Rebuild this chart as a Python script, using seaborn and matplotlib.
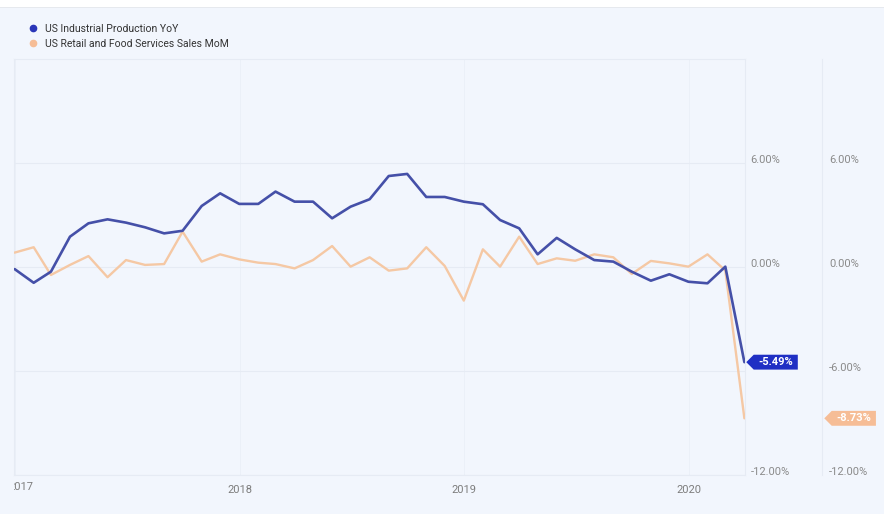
import numpy as np
import pandas as pd
import matplotlib
matplotlib.use("Agg")
import matplotlib.pyplot as plt
import matplotlib.dates as mdates
import matplotlib.transforms as mtransforms
from matplotlib.path import Path
from matplotlib.patches import Rectangle
from matplotlib.lines import Line2D
import seaborn as sns

# ---------------- data ----------------
try:
    dates = pd.date_range("2016-12-31", "2020-03-31", freq="ME")
except Exception:
    dates = pd.date_range("2016-12-31", "2020-03-31", freq="M")

ip_yoy = [-0.12, -0.91, -0.27, 1.75, 2.52, 2.75, 2.56, 2.29, 1.94, 2.09,
          3.52, 4.25, 3.64, 3.64, 4.35, 3.77, 3.77, 2.81, 3.48, 3.91,
          5.25, 5.37, 4.04, 4.04, 3.77, 3.62, 2.71, 2.23, 0.73, 1.68,
          1.02, 0.40, 0.31, -0.27, -0.79, -0.42, -0.85, -0.94, 0.02, -5.49]

retail_mom = [0.83, 1.14, -0.46, 0.12, 0.63, -0.59, 0.40, 0.12, 0.17, 2.04,
              0.31, 0.73, 0.44, 0.25, 0.17, -0.08, 0.40, 1.21, 0.02, 0.56,
              -0.21, -0.08, 1.14, 0.06, -1.94, 1.02, 0.02, 1.75, 0.17, 0.50,
              0.36, 0.73, 0.56, -0.40, 0.35, 0.21, 0.02, 0.73, -0.20, -8.73]

series_names = ["US Industrial Production YoY", "US Retail and Food Services Sales MoM"]
y_ticks = [-12, -6, 0, 6]
year_ticks = ["2017-01-01", "2018-01-01", "2019-01-01", "2020-01-01"]
year_labels = ["2017", "2018", "2019", "2020"]

# ---------------- style ----------------
BLUE_LINE = "#4550a8"
BLUE_TAG = "#1f2fc4"
BLUE_DOT = "#2a36b8"
ORANGE_LINE = "#f5c8a4"
ORANGE_TAG = "#f6bd96"
BG = "#f2f6fd"
GRID = "#e6ebf4"
VGRID = "#ebf0f8"
TICK = "#8a8a8a"

sns.set_theme(style="white")
plt.rcParams["font.family"] = ["Roboto", "DejaVu Sans"]

W, H = 884, 514
fig = plt.figure(figsize=(W / 100, H / 100), dpi=100, facecolor=BG)
ax = fig.add_axes([14 / W, 1 - 475 / H, (745 - 14) / W, (475 - 59) / H])
ax.set_facecolor(BG)

df = pd.DataFrame({"date": dates, "ip": ip_yoy, "retail": retail_mom})
sns.lineplot(data=df, x="date", y="retail", ax=ax, color=ORANGE_LINE, lw=1.7, zorder=3)
sns.lineplot(data=df, x="date", y="ip", ax=ax, color=BLUE_LINE, lw=1.9, zorder=4)

ax.set_xlim(pd.Timestamp("2016-12-30"), pd.Timestamp("2020-04-01"))
ax.set_ylim(-12, 12)
ax.set_xlabel("")
ax.set_ylabel("")

# second y axis (second column)
ax2 = ax.twinx()
ax2.set_ylim(-12, 12)
ax2.set_yticks(y_ticks)
ax2.set_yticklabels([f"{v:.2f}%" for v in y_ticks])
ax2.spines["right"].set_position(("axes", (822 - 14) / (745 - 14)))
ax2.tick_params(axis="y", length=0, pad=5, labelsize=8, labelcolor=TICK)
for lbl in ax2.get_yticklabels():
    lbl.set_verticalalignment("baseline")
for k, s in ax2.spines.items():
    if k == "right":
        s.set_color(GRID)
        s.set_linewidth(0.8)
    else:
        s.set_visible(False)

# y axis (first column on right); the -6.00% label sits under the value tag
ax.set_yticks(y_ticks)
ax.set_yticklabels(["" if v == -6 else f"{v:.2f}%" for v in y_ticks])
ax.tick_params(axis="y", left=False, labelleft=False, right=False, labelright=True,
               length=0, pad=4, labelsize=8, labelcolor=TICK)
for lbl in ax.get_yticklabels():
    lbl.set_verticalalignment("baseline")

# x axis
xt = [pd.Timestamp(d) for d in year_ticks]
ax.set_xticks(xt)
ax.set_xticklabels([""] + year_labels[1:])
ax.tick_params(axis="x", length=0, pad=7, labelsize=8, labelcolor="#7d7d7d")
ax.grid(True, axis="y", color=GRID, lw=0.8)
ax.grid(True, axis="x", color=VGRID, lw=0.7)
for s in ax.spines.values():
    s.set_color(GRID)
    s.set_linewidth(0.8)

# first year label, clipped at the plot's left edge
trans = mtransforms.blended_transform_factory(ax.transData, ax.transAxes) + \
    mtransforms.ScaledTranslation(6 / 100, -7 / 100, fig.dpi_scale_trans)
t2017 = ax.text(mdates.date2num(xt[0]), 0, year_labels[0], transform=trans,
                ha="center", va="top", fontsize=8, color="#7d7d7d", clip_on=True)
t2017.set_clip_path(Rectangle((14, 0), 3000, 3000, transform=mtransforms.IdentityTransform()))


# tag-shaped label box
def tag_box(x0, y0, width, height, mutation_size):
    px = 0.42 * mutation_size
    py = 0.22 * mutation_size
    x0 -= px
    y0 -= py
    width += 2 * px
    height += 2 * py
    tip = height / 2
    verts = [(x0, y0), (x0 + width, y0), (x0 + width, y0 + height),
             (x0, y0 + height), (x0 - tip, y0 + height / 2), (x0, y0)]
    codes = [Path.MOVETO, Path.LINETO, Path.LINETO, Path.LINETO, Path.LINETO, Path.CLOSEPOLY]
    return Path(verts, codes)


last = mdates.date2num(dates[-1])
ax2.annotate(f"{ip_yoy[-1]:.2f}%", xy=(last, ip_yoy[-1]), xytext=(14, 0),
             textcoords="offset pixels", ha="left", va="center", fontsize=8,
             fontweight="bold", color="white", annotation_clip=False, zorder=10,
             bbox=dict(boxstyle=tag_box, fc=BLUE_TAG, ec="none"))
ax2.annotate(f"{retail_mom[-1]:.2f}%", xy=(last, retail_mom[-1]), xytext=(92, 0),
             textcoords="offset pixels", ha="left", va="center", fontsize=8,
             fontweight="bold", color="white", annotation_clip=False, zorder=10,
             bbox=dict(boxstyle=tag_box, fc=ORANGE_TAG, ec="none"))

# legend
handles = [Line2D([], [], ls="", marker="o", markersize=4.5, color=BLUE_DOT),
           Line2D([], [], ls="", marker="o", markersize=4.5, color=ORANGE_TAG)]
fig.legend(handles, series_names, loc="upper left", bbox_to_anchor=(28 / W, 1 - 24 / H),
           frameon=False, fontsize=7.5, handlelength=1.0, handletextpad=0.6,
           labelspacing=0.45, borderpad=0, borderaxespad=0, labelcolor="#333333")

# white header band
fig.patches.append(Rectangle((0, 1 - 7 / H), 1, 7 / H, transform=fig.transFigure,
                             fc="white", ec="none", zorder=0))
fig.patches.append(Rectangle((0, 1 - 8 / H), 1, 1 / H, transform=fig.transFigure,
                             fc="#e6e9ee", ec="none", zorder=0))

fig.savefig("out.png", dpi=100, facecolor=BG)
